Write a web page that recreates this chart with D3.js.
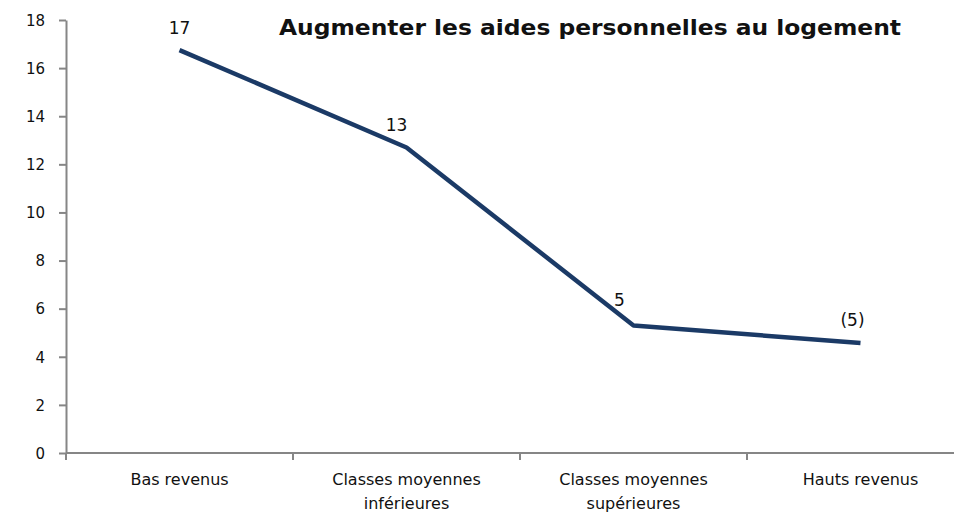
<!DOCTYPE html>
<html>
<head>
<meta charset="utf-8">
<script src="https://cdn.jsdelivr.net/npm/d3@7"></script>
<style>
  body { margin: 0; background: #fff; }
  text { font-family: "DejaVu Sans", Verdana, sans-serif; }
</style>
</head>
<body>
<div id="wrapper"></div>
<script>
const categories = [
  ['Bas revenus'],
  ['Classes moyennes', 'inférieures'],
  ['Classes moyennes', 'supérieures'],
  ['Hauts revenus'],
];
const values = [16.75, 12.7, 5.3, 4.57];
const valueLabels = ['17', '13', '5', '(5)'];
const yTicks = [0, 2, 4, 6, 8, 10, 12, 14, 16, 18];
const title = 'Augmenter les aides personnelles au logement';

let dimensions = {
  width: 954,
  height: 512,
  margin: { top: 20, right: -20, bottom: 59, left: 66 },
};
dimensions.boundedWidth =
  dimensions.width - dimensions.margin.left - dimensions.margin.right;
dimensions.boundedHeight =
  dimensions.height - dimensions.margin.top - dimensions.margin.bottom;

const svg = d3
  .select('#wrapper')
  .append('svg')
  .attr('width', dimensions.width)
  .attr('height', dimensions.height);

const bounds = svg
  .append('g')
  .attr('transform', `translate(${dimensions.margin.left},${dimensions.margin.top})`);

const xScale = d3
  .scaleBand()
  .domain(d3.range(categories.length))
  .range([0, dimensions.boundedWidth]);

const yScale = d3
  .scaleLinear()
  .domain([0, 18])
  .range([dimensions.boundedHeight, 0]);

const axisColor = '#868686';

// y axis
const yAxis = bounds
  .append('g')
  .call(d3.axisLeft(yScale).tickValues(yTicks).tickSize(7).tickSizeOuter(0).tickPadding(14));
yAxis.select('.domain').attr('stroke', axisColor).attr('stroke-width', 2);
yAxis.selectAll('.tick line').attr('stroke', axisColor).attr('stroke-width', 2);
yAxis.selectAll('.tick text')
  .attr('fill', '#111')
  .style('font-size', '15px')
  .attr('dy', '0.35em');

// x axis: ticks at band boundaries
const xAxis = bounds
  .append('g')
  .attr('transform', `translate(0,${dimensions.boundedHeight})`);
xAxis.append('line')
  .attr('x1', 0)
  .attr('x2', dimensions.boundedWidth)
  .attr('stroke', axisColor)
  .attr('stroke-width', 2);
xAxis.selectAll('.xtick')
  .data(d3.range(categories.length + 1))
  .join('line')
  .attr('class', 'xtick')
  .attr('x1', (i) => i * xScale.step())
  .attr('x2', (i) => i * xScale.step())
  .attr('y1', 0)
  .attr('y2', 7)
  .attr('stroke', axisColor)
  .attr('stroke-width', 2);

const catLabels = xAxis.selectAll('.xlabel')
  .data(categories)
  .join('text')
  .attr('class', 'xlabel')
  .attr('text-anchor', 'middle')
  .attr('fill', '#111')
  .style('font-size', '16px')
  .attr('transform', (d, i) => `translate(${xScale(i) + xScale.bandwidth() / 2},32)`);
catLabels.selectAll('tspan')
  .data((d) => d)
  .join('tspan')
  .attr('x', 0)
  .attr('dy', (d, i) => (i === 0 ? 0 : 24))
  .text((d) => d);

// line
const xAccessor = (d, i) => xScale(i) + xScale.bandwidth() / 2;
const lineGenerator = d3.line()
  .x(xAccessor)
  .y((d) => yScale(d));

bounds.append('path')
  .datum(values)
  .attr('d', lineGenerator)
  .attr('fill', 'none')
  .attr('stroke', '#1b3a66')
  .attr('stroke-width', 4.5)
  .attr('stroke-linejoin', 'round');

// value labels
const labelOffsets = [[0, -16], [-10, -16], [-14, -20], [-8, -17]];
bounds.selectAll('.vlabel')
  .data(values)
  .join('text')
  .attr('class', 'vlabel')
  .attr('x', (d, i) => xAccessor(d, i) + labelOffsets[i][0])
  .attr('y', (d, i) => yScale(d) + labelOffsets[i][1])
  .attr('text-anchor', 'middle')
  .attr('fill', '#111')
  .style('font-size', '17px')
  .text((d, i) => valueLabels[i]);

// title
svg.append('text')
  .attr('x', 590)
  .attr('y', 35)
  .attr('text-anchor', 'middle')
  .attr('fill', '#111')
  .style('font-family', '"DejaVu Sans Condensed", "DejaVu Sans", sans-serif')
  .style('font-size', '21px')
  .style('font-weight', 'bold')
  .attr('textLength', 622)
  .attr('lengthAdjust', 'spacingAndGlyphs')
  .text(title);
</script>
</body>
</html>
